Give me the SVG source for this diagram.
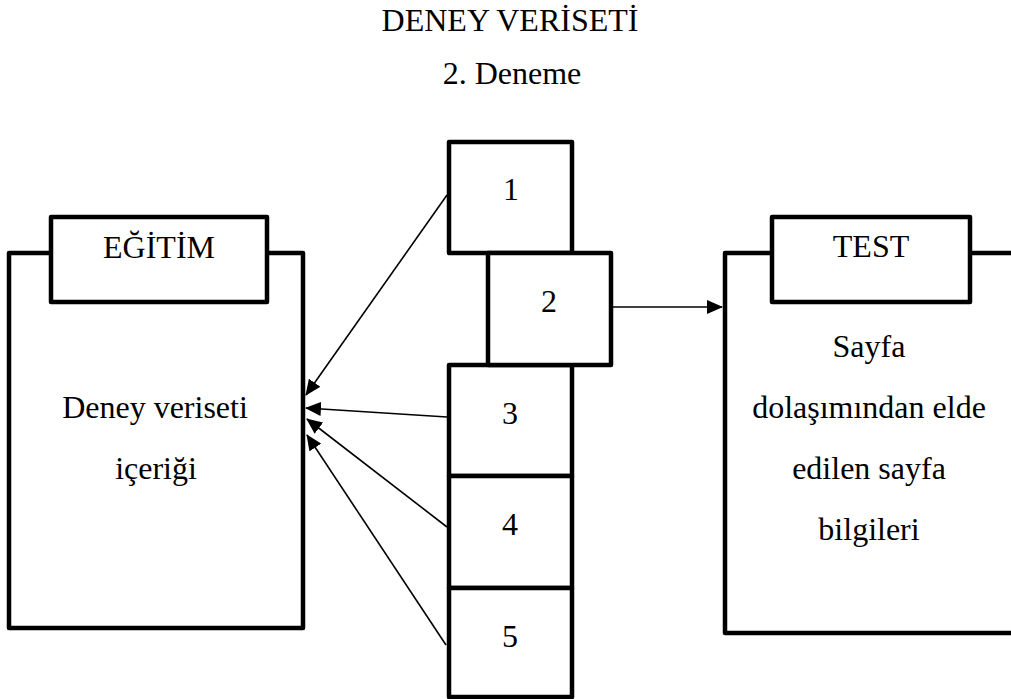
<svg xmlns="http://www.w3.org/2000/svg" width="1011" height="699" viewBox="0 0 1011 699">
<defs>
<style>
.box{fill:#fff;stroke:#000;stroke-width:4.5;stroke-linejoin:round}
.t{font-family:"Liberation Serif","Times New Roman",serif;font-size:32px;fill:#000;text-anchor:middle}
.c{fill:none;stroke:#000;stroke-width:1.6}
</style>
<marker id="ah" markerUnits="userSpaceOnUse" markerWidth="16" markerHeight="14" viewBox="0 0 16 14" refX="15" refY="7" orient="auto">
<path d="M0,0 L16,7 L0,14 Z" fill="#000"/>
</marker>
</defs>
<rect width="1011" height="699" fill="#fff"/>
<text class="t" x="510" y="31">DENEY VERİSETİ</text>
<text class="t" x="512" y="84">2. Deneme</text>
<g id="egitim">
<rect class="box" x="9" y="253" width="294" height="375"/>
<rect class="box" x="51" y="217" width="216" height="85"/>
<text class="t" x="159" y="258">EĞİTİM</text>
<text class="t" x="155" y="418">Deney veriseti</text>
<text class="t" x="156" y="479">içeriği</text>
</g>
<g id="test">
<path class="box" d="M1015,253 L725,253 L725,633 L1015,633"/>
<rect class="box" x="772" y="217" width="198" height="85"/>
<text class="t" x="871" y="257">TEST</text>
<text class="t" x="869" y="357">Sayfa</text>
<text class="t" x="869" y="418">dolaşımından elde</text>
<text class="t" x="869" y="479">edilen sayfa</text>
<text class="t" x="869" y="540">bilgileri</text>
</g>
<g id="n1"><rect class="box" x="449" y="142" width="123" height="111"/><text class="t" x="511" y="200">1</text></g>
<g id="n3"><rect class="box" x="449" y="365" width="123" height="111"/><text class="t" x="510" y="424">3</text></g>
<g id="n4"><rect class="box" x="449" y="476" width="123" height="112"/><text class="t" x="510" y="535">4</text></g>
<g id="n5"><rect class="box" x="449" y="588" width="123" height="109"/><text class="t" x="510" y="647">5</text></g>
<g id="n2"><rect class="box" x="488" y="253" width="123" height="112"/><text class="t" x="549" y="312">2</text></g>
<g id="connectors">
<line class="c" x1="447" y1="195" x2="306" y2="395" marker-end="url(#ah)"/>
<line class="c" x1="447" y1="417" x2="306" y2="408" marker-end="url(#ah)"/>
<line class="c" x1="447" y1="527" x2="307" y2="419" marker-end="url(#ah)"/>
<line class="c" x1="446" y1="645" x2="307" y2="435" marker-end="url(#ah)"/>
<line class="c" x1="611" y1="307" x2="722" y2="307" marker-end="url(#ah)"/>
</g>
</svg>
